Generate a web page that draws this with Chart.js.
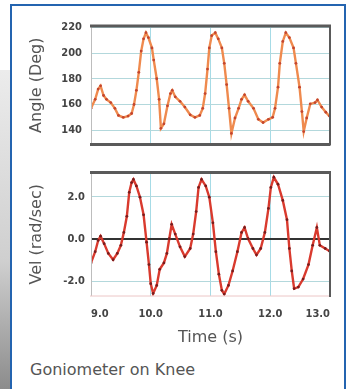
<!DOCTYPE html>
<html>
<head>
<meta charset="utf-8">
<script src="https://cdn.jsdelivr.net/npm/chart.js@4.4.1/dist/chart.umd.min.js"></script>
<style>
    html, body { margin: 0; padding: 0; background: #fff; }
    body { width: 351px; height: 389px; position: relative; overflow: hidden; font-family: 'DejaVu Sans', sans-serif; }
    #side { position: absolute; left: 0; top: 70px; width: 10px; height: 319px; background: linear-gradient(#ececec, #cfcfcf 60%, #8c8c8c); }
    #frame { position: absolute; left: 10px; top: 4px; width: 332px; height: 400px; border: 2px solid #2464b0; background: #fff; }
    #angleChart { position: absolute; left: 0; top: 0; }
    #velChart { position: absolute; left: 0; top: 160px; }
    #caption { position: absolute; left: 30px; top: 360px; font-size: 16px; color: #555; white-space: nowrap; }
</style>
</head>
<body>
<div id="side"></div>
<div id="frame"></div>
<canvas id="angleChart" width="351" height="160"></canvas>
<canvas id="velChart" width="351" height="190"></canvas>
<div id="caption">Goniometer on Knee</div>

<script>
/**
 * Goniometer on Knee - angle and angular velocity vs time
 */

// Angle trace (s, deg)
const angleTime = [9.00, 9.07, 9.12, 9.16, 9.21, 9.26, 9.33, 9.40, 9.46, 9.54, 9.62, 9.68, 9.72, 9.76, 9.80, 9.84, 9.88, 9.92, 9.96,
    10.02, 10.05, 10.10, 10.14, 10.17, 10.22, 10.28, 10.33, 10.36, 10.41, 10.49, 10.57, 10.66, 10.74, 10.82, 10.87, 10.91, 10.95, 10.98,
    11.02, 11.08, 11.13, 11.19, 11.23, 11.27, 11.31, 11.35, 11.41, 11.47, 11.52, 11.57, 11.63, 11.72, 11.80, 11.88, 11.97,
    12.04, 12.08, 12.13, 12.16, 12.21, 12.26, 12.32, 12.39, 12.43, 12.49, 12.53, 12.56, 12.61, 12.67, 12.75, 12.79, 12.86, 12.93, 12.99];
const angleDeg = [157, 164, 172, 174.5, 167, 164, 161.5, 157, 151.5, 150, 151, 153, 160, 171, 185, 201.5, 211, 215.8, 212,
    204, 194.5, 180, 164, 141.5, 145, 159, 168.5, 171, 166, 162.5, 158, 152, 150, 151.5, 157, 168.5, 187.5, 204,
    213.5, 215.8, 211, 204, 192, 175.5, 157, 137.5, 149.5, 157, 164, 167.5, 162.5, 157, 148.5, 146, 148.5,
    150, 157, 173.5, 192, 209, 215.8, 212, 204, 192, 173.5, 154.5, 139, 149.5, 160.5, 161.5, 163.5, 158, 154, 151];

// Velocity trace (s, rad/sec)
const velTime = [9.00, 9.07, 9.12, 9.16, 9.22, 9.29, 9.37, 9.44, 9.50, 9.55, 9.60, 9.64, 9.68, 9.71, 9.76, 9.82, 9.88, 9.93, 9.97,
    10.00, 10.04, 10.10, 10.15, 10.22, 10.27, 10.31, 10.35, 10.41, 10.49, 10.57, 10.66, 10.71, 10.76, 10.80, 10.85, 10.92, 10.98,
    11.04, 11.09, 11.14, 11.19, 11.23, 11.30, 11.37, 11.45, 11.52, 11.57, 11.63, 11.71, 11.77, 11.84, 11.91, 11.97,
    12.01, 12.06, 12.13, 12.21, 12.28, 12.32, 12.36, 12.40, 12.47, 12.55, 12.64, 12.71, 12.78, 12.83, 12.92, 12.99];
const velRad = [-1.12, -0.59, -0.06, 0.14, -0.21, -0.67, -0.97, -0.67, -0.29, 0.32, 1.08, 2.21, 2.67, 2.82, 2.51, 1.98, 1.15, -0.14, -1.2,
    -2.1, -2.56, -2.18, -1.42, -1.12, -0.67, 0.02, 0.70, 0.24, -0.36, -0.82, -0.44, 0.24, 1.30, 2.44, 2.82, 2.51, 1.98,
    0.77, -0.59, -1.65, -2.41, -2.59, -2.18, -1.5, -0.59, 0.32, 0.55, 0.02, -0.44, -0.74, -0.44, 0.32, 1.45,
    2.44, 2.92, 2.59, 1.83, 0.92, -0.44, -1.5, -2.33, -2.26, -1.88, -1.2, -0.29, 0.55, -0.29, -0.44, -0.56];

const timeTicks = [9, 10, 11, 12, 13];
const angleTicks = [140, 160, 180, 200, 220];
const velTicks = [-2, 0, 2];

const tickFont = { family: "'Liberation Sans Narrow', 'DejaVu Sans Condensed', sans-serif", size: 11, weight: 'bold' };
const titleFont = { family: "'DejaVu Sans', sans-serif", size: 16 };

// plot frame: thin left edge, heavy top/right, bottom set per chart
const plotFrame = {
    id: 'plotFrame',
    afterDraw(chart, args, opts) {
        const { ctx, chartArea: a } = chart;
        const line = (x1, y1, x2, y2, color, width) => {
            ctx.beginPath();
            ctx.strokeStyle = color;
            ctx.lineWidth = width;
            ctx.moveTo(x1, y1);
            ctx.lineTo(x2, y2);
            ctx.stroke();
        };
        ctx.save();
        line(a.left + 0.5, a.top, a.left + 0.5, a.bottom, '#bdbdbd', 1);
        line(a.left - 1, a.bottom, a.right, a.bottom, opts.bottomColor, opts.bottomWidth);
        line(a.left - 1, a.top, a.right + 1, a.top, '#5a5a5a', 3);
        line(a.right, a.top, a.right, a.bottom + 1, '#5a5a5a', 2);
        ctx.restore();
    }
};

function makeChart(canvasId, xs, ys, cfg) {
    return new Chart(document.getElementById(canvasId), {
        type: 'line',
        data: {
            datasets: [{
                data: xs.map((t, i) => ({ x: t, y: ys[i] })),
                borderColor: cfg.lineColor,
                borderWidth: 2.4,
                pointRadius: 1.4,
                pointBackgroundColor: cfg.pointColor,
                pointBorderWidth: 0,
                tension: 0
            }]
        },
        options: {
            responsive: false,
            animation: false,
            layout: { padding: cfg.padding },
            plugins: {
                legend: { display: false },
                tooltip: { enabled: false },
                plotFrame: { bottomColor: cfg.bottomColor, bottomWidth: cfg.bottomWidth }
            },
            scales: {
                x: {
                    type: 'linear',
                    min: 9,
                    max: 13,
                    afterBuildTicks: s => { s.ticks = timeTicks.map(v => ({ value: v })); },
                    afterFit: s => { s.height = cfg.xHeight; },
                    border: { display: false },
                    grid: { color: '#a6dbe6', lineWidth: 1, drawTicks: false },
                    ticks: {
                        display: cfg.showX,
                        align: 'inner',
                        padding: 12,
                        color: '#444',
                        font: tickFont,
                        callback: v => v.toFixed(1)
                    },
                    title: {
                        display: cfg.showX,
                        text: 'Time (s)',
                        color: '#555',
                        font: titleFont,
                        padding: { top: 0, bottom: 3 }
                    }
                },
                y: {
                    min: cfg.yMin,
                    max: cfg.yMax,
                    afterBuildTicks: s => { s.ticks = cfg.yTicks.map(v => ({ value: v })); },
                    afterFit: s => { s.width = 64; },
                    border: { display: false },
                    grid: {
                        drawTicks: false,
                        color: c => (c.tick && c.tick.value === 0) ? '#333' : '#b3d8dc',
                        lineWidth: c => (c.tick && c.tick.value === 0) ? 2 : 1
                    },
                    ticks: {
                        padding: cfg.yPad,
                        color: '#444',
                        font: tickFont,
                        callback: v => v.toFixed(cfg.digits)
                    },
                    title: {
                        display: true,
                        text: cfg.yTitle,
                        color: '#555',
                        font: titleFont,
                        padding: { top: 0, bottom: 0 }
                    }
                }
            }
        },
        plugins: [plotFrame]
    });
}

makeChart('angleChart', angleTime, angleDeg, {
    lineColor: '#ef8a4e',
    pointColor: '#c4452e',
    padding: { left: 27, right: 21, top: 26, bottom: 4 },
    xHeight: 0,
    showX: false,
    yMin: 129,
    yMax: 221,
    yTicks: angleTicks,
    yPad: 9,
    digits: 0,
    yTitle: 'Angle (Deg)',
    bottomColor: '#5a5a5a',
    bottomWidth: 3
});

makeChart('velChart', velTime, velRad, {
    lineColor: '#d93a2e',
    pointColor: '#7a1c1c',
    padding: { left: 27, right: 21, top: 8, bottom: 0 },
    xHeight: 54,
    showX: true,
    yMin: -2.68,
    yMax: 3.14,
    yTicks: velTicks,
    yPad: 6,
    digits: 1,
    yTitle: 'Vel (rad/sec)',
    bottomColor: '#ecc6c6',
    bottomWidth: 1
});
</script>
</body>
</html>
